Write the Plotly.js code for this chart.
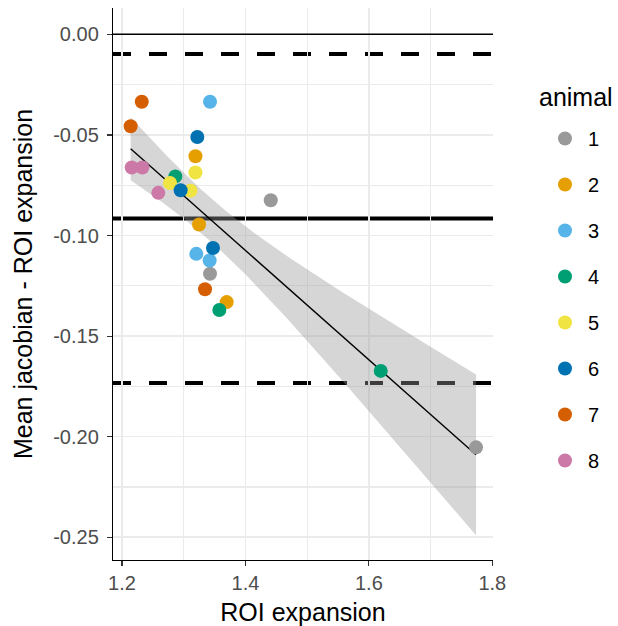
<!DOCTYPE html>
<html>
<head>
<meta charset="utf-8">
<script src="https://cdn.plot.ly/plotly-3.0.1.min.js"></script>
<style>html,body{margin:0;padding:0;background:#fff;}#chart{width:618px;height:626px;}</style>
</head>
<body>
<div id="chart"></div>
<script>
// ---- data ----
const animalIds = ['1','2','3','4','5','6','7','8'];
const animalColors = ['#999999','#E69F00','#56B4E9','#009E73','#F0E442','#0072B2','#D55E00','#CC79A7'];
const roiExpansion = [
  1.441, 1.3426, 1.7736,
  1.319, 1.3248, 1.3696,
  1.3426, 1.3204, 1.342,
  1.2864, 1.3577, 1.6192,
  1.319, 1.2778, 1.311,
  1.322, 1.295, 1.3474,
  1.232, 1.214, 1.3345,
  1.2157, 1.233, 1.2588
];
const meanDiff = [
  -0.0825, -0.1190, -0.2053,
  -0.0606, -0.0945, -0.1331,
  -0.0335, -0.1091, -0.1124,
  -0.0706, -0.1370, -0.1673,
  -0.0687, -0.0739, -0.0777,
  -0.0510, -0.0775, -0.1062,
  -0.0335, -0.0457, -0.1267,
  -0.0662, -0.0662, -0.0788
];
const animal = [
  '1','1','1','2','2','2','3','3','3','4','4','4',
  '5','5','5','6','6','6','7','7','7','8','8','8'
];
const xTickVals = [1.2, 1.4, 1.6, 1.8];
const xTickText = ['1.2', '1.4', '1.6', '1.8'];
const yTickVals = [0, -0.05, -0.10, -0.15, -0.20, -0.25];
const yTickText = ['0.00', '-0.05', '-0.10', '-0.15', '-0.20', '-0.25'];
const zeroRef = 0;
const legendTitle = 'animal';

// ---- statistics ----
const n = roiExpansion.length;
const avg = a => a.reduce((s, v) => s + v, 0) / a.length;
const xbar = avg(roiExpansion), ybar = avg(meanDiff);
let Sxx = 0, Sxy = 0;
for (let i = 0; i < n; i++) {
  Sxx += (roiExpansion[i] - xbar) ** 2;
  Sxy += (roiExpansion[i] - xbar) * (meanDiff[i] - ybar);
}
const b1 = Sxy / Sxx, b0 = ybar - b1 * xbar;
let SSE = 0;
for (let i = 0; i < n; i++) SSE += (meanDiff[i] - (b0 + b1 * roiExpansion[i])) ** 2;
const sRes = Math.sqrt(SSE / (n - 2));
const sdY = Math.sqrt(meanDiff.reduce((s, v) => s + (v - ybar) ** 2, 0) / (n - 1));
const upperLoA = ybar + 1.96 * sdY, lowerLoA = ybar - 1.96 * sdY;

function lgamma(z) {
  const g = 7, c = [0.99999999999980993, 676.5203681218851, -1259.1392167224028, 771.32342877765313,
    -176.61502916214059, 12.507343278686905, -0.13857109526572012, 9.9843695780195716e-6, 1.5056327351493116e-7];
  z -= 1; let x = c[0];
  for (let i = 1; i < g + 2; i++) x += c[i] / (z + i);
  const t = z + g + 0.5;
  return 0.5 * Math.log(2 * Math.PI) + (z + 0.5) * Math.log(t) - t + Math.log(x);
}
function tcdfHalf(t, df) {
  const k = Math.exp(lgamma((df + 1) / 2) - lgamma(df / 2)) / Math.sqrt(df * Math.PI);
  const m = 400, h = t / m; let s = 0;
  for (let i = 0; i <= m; i++) {
    const x = i * h, w = (i === 0 || i === m) ? 1 : (i % 2 ? 4 : 2);
    s += w * k * Math.pow(1 + x * x / df, -(df + 1) / 2);
  }
  return s * h / 3;
}
function qt975(df) {
  let lo = 0, hi = 10;
  for (let i = 0; i < 60; i++) { const mid = (lo + hi) / 2; if (tcdfHalf(mid, df) < 0.475) lo = mid; else hi = mid; }
  return (lo + hi) / 2;
}
const tcrit = qt975(n - 2);
const xmin = Math.min(...roiExpansion), xmax = Math.max(...roiExpansion);
const fitX = [], fitY = [], upY = [], loY = [];
for (let i = 0; i < 80; i++) {
  const x = xmin + (xmax - xmin) * i / 79;
  const f = b0 + b1 * x;
  const se = sRes * Math.sqrt(1 / n + (x - xbar) ** 2 / Sxx);
  fitX.push(x); fitY.push(f); upY.push(f + tcrit * se); loY.push(f - tcrit * se);
}

// ---- traces ----
const traces = [];
traces.push({
  x: fitX.concat(fitX.slice().reverse()),
  y: upY.concat(loY.slice().reverse()),
  type: 'scatter', mode: 'lines', fill: 'toself',
  fillcolor: 'rgba(153,153,153,0.4)', line: {width: 0}, hoverinfo: 'skip', showlegend: false
});
traces.push({
  x: fitX, y: fitY, type: 'scatter', mode: 'lines',
  line: {color: '#000000', width: 1.4}, showlegend: false, hoverinfo: 'skip'
});
animalIds.forEach((id, k) => {
  const xs = [], ys = [];
  for (let i = 0; i < n; i++) if (animal[i] === id) { xs.push(roiExpansion[i]); ys.push(meanDiff[i]); }
  traces.push({
    x: xs, y: ys, type: 'scatter', mode: 'markers', name: id, legendgroup: id,
    marker: {color: animalColors[k], size: 14, line: {width: 0}}
  });
});

const hl = (y, width, dash, layer) => ({
  type: 'line', xref: 'paper', x0: 0, x1: 1, yref: 'y', y0: y, y1: y,
  layer: layer || 'between', line: {color: '#000000', width: width, dash: dash}
});

const font = 'Liberation Sans, Arial, sans-serif';
const layout = {
  width: 618, height: 626,
  margin: {l: 113, r: 125, t: 8, b: 66, pad: 0},
  paper_bgcolor: '#ffffff', plot_bgcolor: '#ffffff',
  font: {family: font, color: '#000000'},
  showlegend: true,
  xaxis: {
    range: [1.1854, 1.8011], tickmode: 'array', tickvals: xTickVals, ticktext: xTickText,
    tickfont: {size: 20, color: '#4d4d4d'}, ticks: 'outside', ticklen: 5, tickwidth: 1.2, tickcolor: '#333333',
    showline: true, linecolor: '#000000', linewidth: 1.2,
    showgrid: true, gridcolor: '#ebebeb', gridwidth: 1.6, zeroline: false,
    minor: {dtick: 0.1, tick0: 1.1, showgrid: true, gridcolor: '#ebebeb', gridwidth: 1.1, ticks: ''},
    title: {text: 'ROI expansion', font: {size: 25, color: '#000000'}, standoff: 12}
  },
  yaxis: {
    range: [-0.2613, 0.0131], tickmode: 'array', tickvals: yTickVals, ticktext: yTickText,
    tickfont: {size: 20, color: '#4d4d4d'}, ticks: 'outside', ticklen: 5, tickwidth: 1.2, tickcolor: '#333333',
    ticklabelstandoff: 4,
    showline: true, linecolor: '#000000', linewidth: 1.2,
    showgrid: true, gridcolor: '#ebebeb', gridwidth: 1.6, zeroline: false,
    minor: {dtick: 0.025, tick0: 0, showgrid: true, gridcolor: '#ebebeb', gridwidth: 1.1, ticks: ''},
    title: {text: 'Mean jacobian - ROI expansion', font: {size: 25, color: '#000000'}, standoff: 13}
  },
  legend: {
    x: (542 - 113) / 380, xanchor: 'left', y: (560 - 119) / 552, yanchor: 'top',
    itemwidth: 36,
    font: {size: 20, color: '#000000'}, tracegroupgap: 17, bgcolor: 'rgba(0,0,0,0)'
  },
  annotations: [{
    text: legendTitle, xref: 'paper', yref: 'paper', x: (537 - 113) / 380, y: (560 - 97) / 552,
    xanchor: 'left', yanchor: 'middle', showarrow: false, font: {size: 25, color: '#000000'}
  }],
  shapes: [
    hl(zeroRef, 1.5, 'solid', 'above'),
    hl(upperLoA, 4, '18px,18px'),
    hl(ybar, 4, 'solid'),
    hl(lowerLoA, 4, '18px,18px')
  ]
};

Plotly.newPlot('chart', traces, layout, {displayModeBar: false, staticPlot: true});
</script>
</body>
</html>
